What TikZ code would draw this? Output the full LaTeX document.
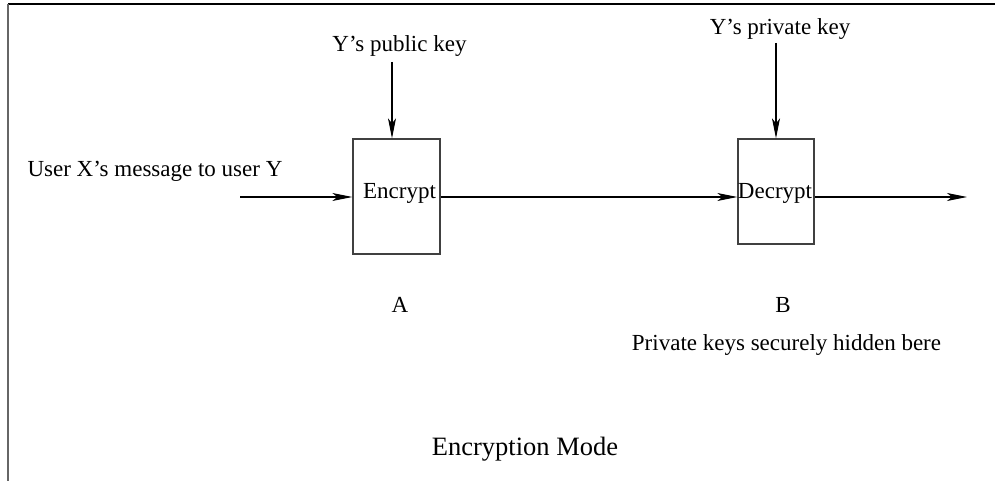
\documentclass[tikz,border=0pt]{standalone}
\usepackage{fontspec}
\setmainfont{Liberation Serif}
\usetikzlibrary{arrows.meta}
\begin{document}
\begin{tikzpicture}[x=1pt,y=-1pt,
  lbl/.style={anchor=base,inner sep=0pt,font=\fontsize{23}{27}\selectfont},
  bigl/.style={anchor=base,inner sep=0pt,font=\fontsize{26.5}{31}\selectfont},
  blockbox/.style={draw=black!75,line width=1.3pt,inner sep=0pt,minimum width=#1},
  flow/.style={draw=black,line width=1.2pt,-{Stealth[length=20pt,width=8pt,inset=5pt]}},
  framel/.style={line width=1.6pt}]
\useasboundingbox (0,0) rectangle (995,481);
% outer frame (top and left edges only)
\draw[framel,black] (8,4) -- (995,4);
\draw[framel,black!60] (8,4) -- (8,481);
% the two blocks
\node[blockbox=87pt,minimum height=115pt] (enc) at (396.5,196.5) {};
\node[blockbox=76pt,minimum height=105pt] (dec) at (776,191.5) {};
\node[lbl] (enctxt) at (399.5,198) {Encrypt};
\node[lbl] (dectxt) at (775,199) {Decrypt};
% key labels
\node[lbl] (pubk) at (399.5,52) {Y’s public key};
\node[lbl] (privk) at (780,35) {Y’s private key};
\coordinate (pubtop) at (392,62);
\coordinate (privtop) at (776,43);
\draw[flow] (pubtop) -- (pubtop |- enc.north);
\draw[flow] (privtop) -- (privtop |- dec.north);
% message path
\node[lbl] (msg) at (155,177) {User X’s message to user Y};
\coordinate (in) at (240,197);
\coordinate (out) at (967,197);
\draw[flow] (in) -- (in -| enc.west);
\draw[flow] (enc.east |- in) -- (dec.west |- in);
\draw[flow] (dec.east |- in) -- (out);
% captions
\node[lbl] (la) at (400,312) {A};
\node[lbl] (lb) at (783,312) {B};
\node[lbl] (hide) at (786.5,350) {Private keys securely hidden bere};
\node[bigl] (mode) at (525,455) {Encryption Mode};
\end{tikzpicture}
\end{document}
